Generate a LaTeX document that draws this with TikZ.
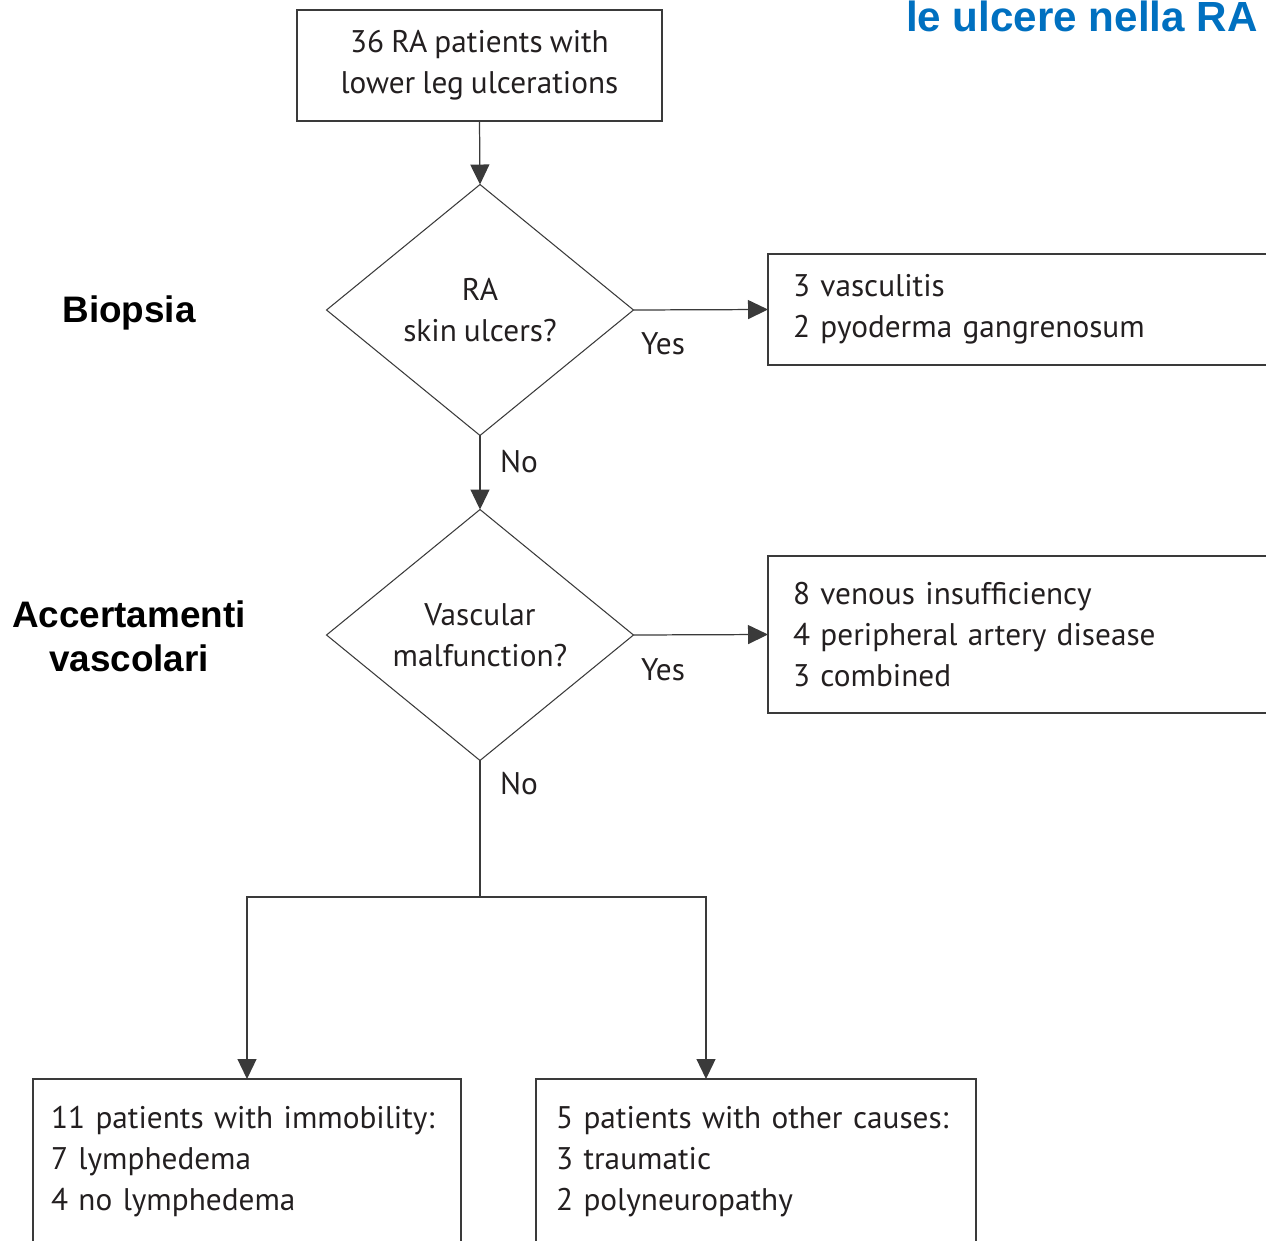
\documentclass[tikz,border=0pt]{standalone}
\usepackage{fontspec}
\setmainfont{PT Sans}[WordSpace=0.85]
\newfontfamily\arialfont{Liberation Sans}
\usetikzlibrary{shapes.geometric,arrows.meta}

\definecolor{titleblue}{HTML}{0070C0}
\definecolor{inkgray}{HTML}{231F20}
\definecolor{linegray}{HTML}{3A3A3A}

\newcommand{\boxfont}{\fontsize{17.8}{23.3}\selectfont}
\newcommand{\sidefont}{\arialfont\bfseries\fontsize{21}{25}\selectfont}

\begin{document}
\begin{tikzpicture}[x=0.02cm, y=-0.02cm,
	box/.style={draw=linegray, line width=0.7pt, rectangle, inner sep=0pt,
		outer sep=0pt, text=inkgray, font=\boxfont},
	listbox/.style={box, align=left, inner xsep=0.5cm},
	decision/.style={draw=linegray, line width=0.6pt, diamond, inner sep=0pt,
		outer sep=0pt, minimum width=6.14cm, minimum height=5.02cm,
		align=center, text=inkgray, font=\boxfont},
	arr/.style={draw=linegray, line width=0.7pt, -{Triangle[length=0.4cm, width=0.38cm]}},
	link/.style={draw=linegray, line width=0.7pt},
	answer/.style={text=inkgray, font=\boxfont, inner sep=0pt},
	side/.style={font=\sidefont, align=center, inner sep=0pt}]
	% ==================================================
	% 1. frame (pixel grid of the slide)
	% ==================================================
	\useasboundingbox (0,0) rectangle (1266,1240);
	\clip (0,0) rectangle (1266,1240);

	% 2. title, cut at the top edge
	\node[font=\arialfont\bfseries\fontsize{24}{28}\selectfont, text=titleblue,
		anchor=base east, inner sep=0pt] (title) at (1258,32) {le ulcere nella RA};

	% 3. start and the two questions
	\node[box, minimum width=7.3cm, minimum height=2.22cm, align=center]
		(start) at (479.5,65.5) {36 RA patients with\\lower leg ulcerations};
	\node[decision] (qskin) at (480,310) {RA\\skin ulcers?};
	\node[decision] (qvasc) at (480,635) {Vascular\\malfunction?};

	% 4. result boxes on the right (they run past the edge)
	\node[listbox, anchor=west, text width=10cm, minimum height=2.22cm]
		(skinres) at (768,309.5) {3 vasculitis\\2 pyoderma gangrenosum};
	\node[listbox, anchor=west, text width=10cm, minimum height=3.14cm]
		(vascres) at (768,634.5) {8 venous insufficiency\\4 peripheral artery disease\\3 combined};

	% 5. the two boxes at the bottom
	\node[listbox, anchor=north, inner xsep=0.36cm, text width=7.84cm, minimum height=3.3cm]
		(immob) at (247,1079) {11 patients with immobility:\\7 lymphedema\\4 no lymphedema};
	\node[listbox, anchor=north, inner xsep=0.4cm, text width=8cm, minimum height=3.3cm]
		(other) at (756,1079) {5 patients with other causes:\\3 traumatic\\2 polyneuropathy};

	% 6. connectors
	\draw[arr] (start.south) -- (qskin.north);
	\draw[arr] (qskin.east) -- (skinres.west);
	\draw[arr] (qskin.south) -- (qvasc.north);
	\draw[arr] (qvasc.east) -- (vascres.west);
	\coordinate (split) at (480,897);
	\coordinate (otherin) at (706,1079);
	\draw[link] (qvasc.south) -- (split);
	\draw[arr] (split) -| (immob.north);
	\draw[arr] (split) -| (otherin);

	% 7. yes / no labels
	\node[answer] (yes1) at (663,344) {Yes};
	\node[answer] (yes2) at (663,670) {Yes};
	\node[answer] (no1) at (519,462) {No};
	\node[answer] (no2) at (519,784) {No};

	% 8. step names on the left
	\node[side] (biopsy) at (129,313) {Biopsia};
	\node[side] (vascular) at (129,636) {Accertamenti\\vascolari};
\end{tikzpicture}
\end{document}
